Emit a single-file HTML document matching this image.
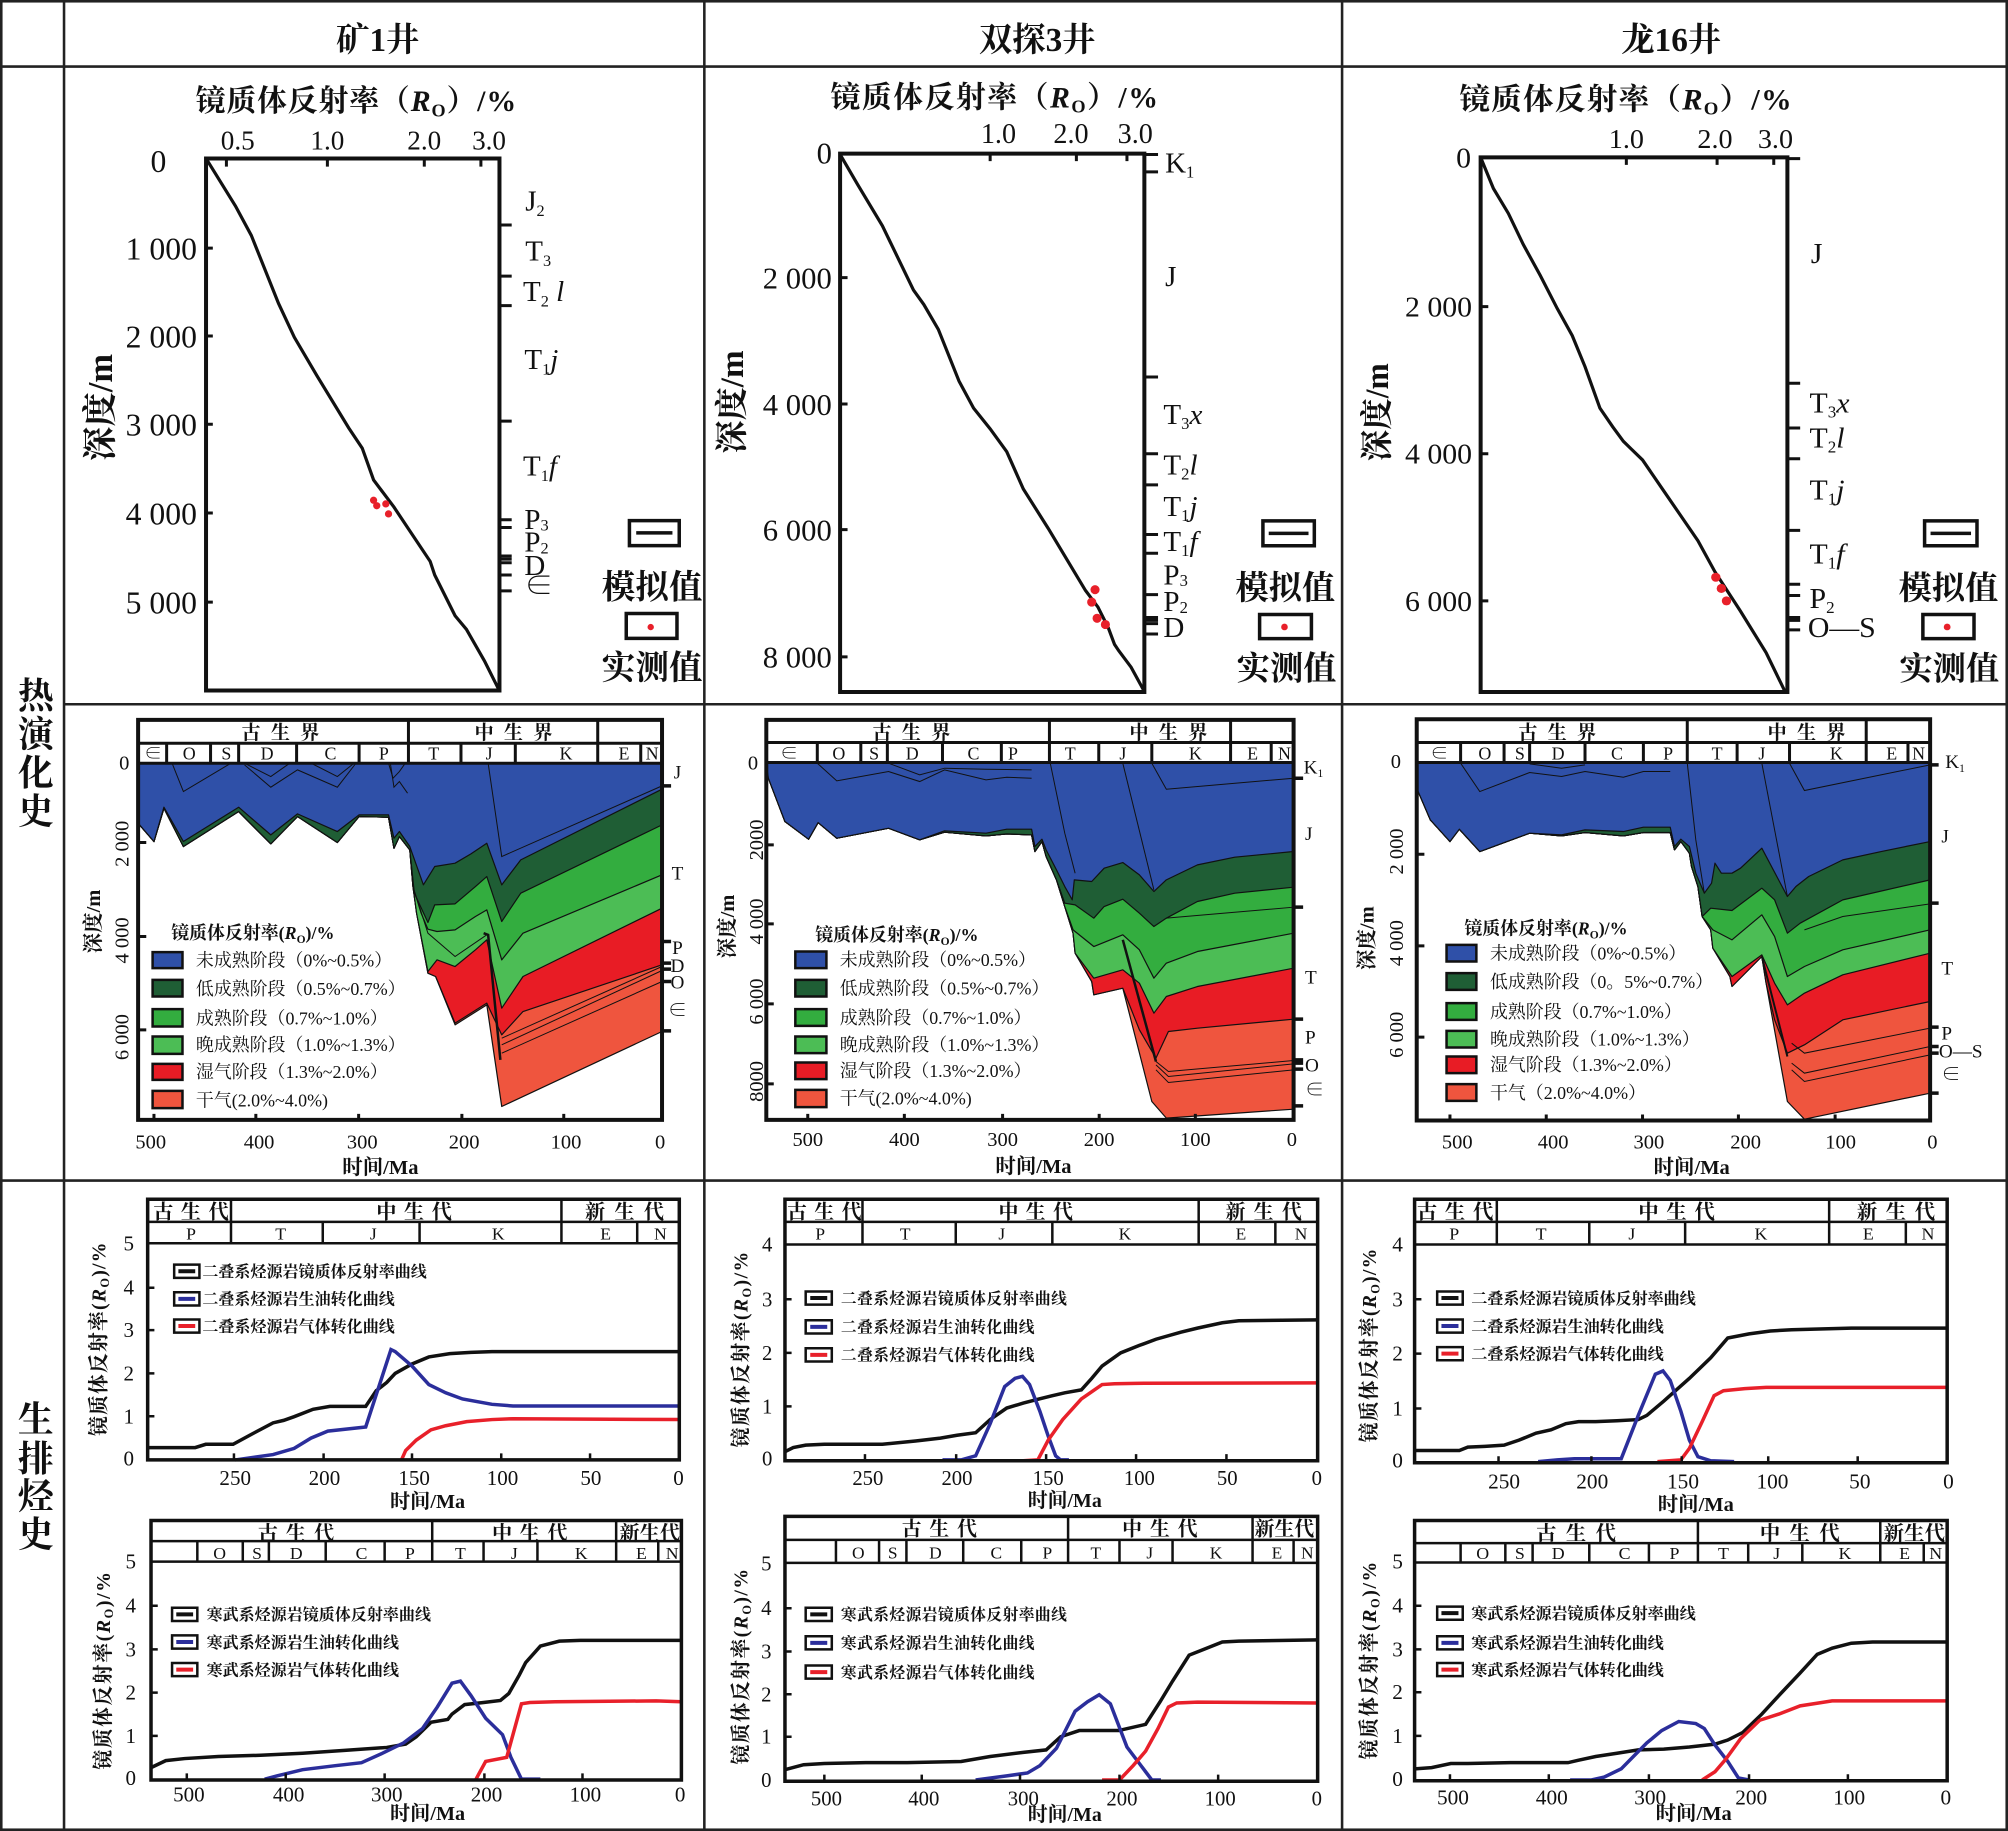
<!DOCTYPE html>
<html><head><meta charset="utf-8">
<style>
html,body{margin:0;padding:0;background:#fff}
svg{display:block}
text{font-family:"Liberation Serif","Noto Serif CJK SC","Noto Sans CJK SC",serif;fill:#111}
.b{font-weight:bold}
.m{text-anchor:middle}
.e{text-anchor:end}
.ns path,.ns line,.ns rect,.ns polyline,.ns circle{vector-effect:non-scaling-stroke}
</style></head><body>
<svg xmlns="http://www.w3.org/2000/svg" width="2008" height="1831" viewBox="0 0 1568 1430" preserveAspectRatio="none">
<rect x="0" y="0" width="1568" height="1430" fill="#fff"/>

<!-- grid -->
<g stroke="#222" stroke-width="2" fill="none">
<rect x="1" y="1" width="1566" height="1428"/>
<line x1="50" y1="0" x2="50" y2="1430"/>
<line x1="550" y1="0" x2="550" y2="1430"/>
<line x1="1048" y1="0" x2="1048" y2="1430"/>
<line x1="0" y1="52" x2="1568" y2="52"/>
<line x1="50" y1="550" x2="1568" y2="550"/>
<line x1="0" y1="922" x2="1568" y2="922"/>
</g>
<g class="b m" font-size="26">
<text x="295" y="40">矿1井</text>
<text x="810" y="40">双探3井</text>
<text x="1305" y="40">龙16井</text>
</g>
<g class="b m" font-size="28">
<text x="28" y="553">热</text><text x="28" y="583">演</text><text x="28" y="613">化</text><text x="28" y="643">史</text>
<text x="28" y="1118">生</text><text x="28" y="1149">排</text><text x="28" y="1178">烃</text><text x="28" y="1208">史</text>
</g>

<!-- ============ ROW 1 PANEL 1 ============ -->
<g transform="scale(0.3536)" class="ns">
<text class="b" x="432" y="245" font-size="66" textLength="708">镜质体反射率（<tspan font-style="italic">R</tspan><tspan font-size="40" dy="12">O</tspan><tspan dy="-12">）/%</tspan></text>
<g font-size="60" class="m"><text x="525" y="330">0.5</text><text x="723" y="330">1.0</text><text x="937" y="330">2.0</text><text x="1080" y="330">3.0</text></g>
<g font-size="70"><text x="350" y="380" class="m">0</text><text x="435" y="573" class="e">1 000</text><text x="435" y="767" class="e">2 000</text><text x="435" y="962" class="e">3 000</text><text x="435" y="1158" class="e">4 000</text><text x="435" y="1355" class="e">5 000</text></g>
<text class="b m" font-size="76" transform="translate(247,900) rotate(-90)">深度/m</text>
<path d="M455,350 L520,455 L555,520 L615,670 L650,745 L700,830 L770,945 L800,990 L825,1060 L870,1120 L900,1165 L950,1240 L960,1270 L1005,1360 L1030,1390 L1070,1460 L1100,1520" fill="none" stroke="#111" stroke-width="3.2"/>
<rect x="455" y="350" width="648" height="1175" fill="none" stroke="#111" stroke-width="4"/>
<path d="M500,350v18M723,350v18M937,350v18M1062,350v18M455,548h15M455,742h15M455,937h15M455,1133h15M455,1330h15" stroke="#111" stroke-width="3"/>
<path d="M1103,497h27M1103,610h27M1103,675h27M1103,930h27M1103,1148h27M1103,1165h27M1103,1228h27M1103,1235h27M1103,1243h27M1103,1270h27M1103,1305h27" stroke="#111" stroke-width="3"/>
<g fill="#e8202a"><circle cx="825" cy="1105" r="8"/><circle cx="832" cy="1117" r="8"/><circle cx="852" cy="1113" r="8"/><circle cx="858" cy="1135" r="8"/></g>
<g font-size="64">
<text x="1160" y="465">J<tspan font-size="36" dy="12">2</tspan></text>
<text x="1160" y="575">T<tspan font-size="36" dy="12">3</tspan></text>
<text x="1155" y="665">T<tspan font-size="36" dy="12">2</tspan><tspan dy="-12" font-style="italic"> l</tspan></text>
<text x="1158" y="815">T<tspan font-size="36" dy="12">1</tspan><tspan dy="-12" font-style="italic">j</tspan></text>
<text x="1155" y="1050">T<tspan font-size="36" dy="12">1</tspan><tspan dy="-12" font-style="italic">f</tspan></text>
<text x="1158" y="1168">P<tspan font-size="36" dy="4">3</tspan></text>
<text x="1158" y="1218">P<tspan font-size="36" dy="4">2</tspan></text>
<text x="1158" y="1270">D</text>
<text x="1158" y="1315">∈</text>
</g>
<rect x="1390" y="1150" width="110" height="55" fill="none" stroke="#111" stroke-width="3.5"/>
<line x1="1405" y1="1177" x2="1485" y2="1177" stroke="#111" stroke-width="3.5"/>
<rect x="1383" y="1355" width="112" height="55" fill="none" stroke="#111" stroke-width="3.5"/>
<circle cx="1437" cy="1385" r="7" fill="#e8202a"/>
<text class="b m" x="1440" y="1322" font-size="74">模拟值</text>
<text class="b m" x="1440" y="1500" font-size="74">实测值</text>
</g>

<!-- ============ ROW 1 PANEL 2 ============ -->
<g transform="translate(546.6,46.85) scale(0.3237)" class="ns">
<text class="b" x="315" y="115" font-size="72" textLength="790">镜质体反射率（<tspan font-style="italic">R</tspan><tspan font-size="44" dy="12">O</tspan><tspan dy="-12">）/%</tspan></text>
<g font-size="68" class="m"><text x="720" y="200">1.0</text><text x="895" y="200">2.0</text><text x="1050" y="200">3.0</text></g>
<g font-size="74"><text x="300" y="250" class="m">0</text><text x="318" y="551" class="e">2 000</text><text x="318" y="856" class="e">4 000</text><text x="318" y="1159" class="e">6 000</text><text x="318" y="1466" class="e">8 000</text></g>
<text class="b m" font-size="80" transform="translate(104,825) rotate(-90)">深度/m</text>
<path d="M338,228 L380,300 L440,400 L515,555 L540,590 L575,650 L625,775 L660,840 L700,890 L740,945 L780,1035 L840,1130 L885,1205 L930,1280 L960,1320 L985,1370 L1000,1410 L1010,1425 L1040,1465 L1070,1520" fill="none" stroke="#111" stroke-width="3.2"/>
<rect x="338" y="226" width="734" height="1299" fill="none" stroke="#111" stroke-width="4"/>
<path d="M700,226v18M908,226v18M1030,226v18M338,525h18M338,830h18M338,1133h18M338,1440h18" stroke="#111" stroke-width="3"/>
<path d="M1072,228h33M1072,270h33M1072,765h33M1072,950h33M1072,1025h33M1072,1145h33M1072,1190h33M1072,1290h33M1072,1345h33M1072,1352h33M1072,1360h33M1072,1385h33" stroke="#111" stroke-width="3"/>
<g fill="#e8202a"><circle cx="953" cy="1278" r="11"/><circle cx="945" cy="1308" r="11"/><circle cx="958" cy="1347" r="11"/><circle cx="978" cy="1362" r="11"/></g>
<g font-size="70">
<text x="1122" y="272">K<tspan font-size="40" dy="12">1</tspan></text>
<text x="1122" y="545">J</text>
<text x="1118" y="878">T<tspan font-size="40" dy="12">3</tspan><tspan dy="-12" font-style="italic">x</tspan></text>
<text x="1118" y="1000">T<tspan font-size="40" dy="12">2</tspan><tspan dy="-12" font-style="italic">l</tspan></text>
<text x="1118" y="1100">T<tspan font-size="40" dy="12">1</tspan><tspan dy="-12" font-style="italic">j</tspan></text>
<text x="1118" y="1185">T<tspan font-size="40" dy="12">1</tspan><tspan dy="-12" font-style="italic">f</tspan></text>
<text x="1118" y="1265">P<tspan font-size="40" dy="4">3</tspan></text>
<text x="1118" y="1330">P<tspan font-size="40" dy="4">2</tspan></text>
<text x="1118" y="1392">D</text>
</g>
<rect x="1358" y="1112" width="124" height="60" fill="none" stroke="#111" stroke-width="3.5"/>
<line x1="1372" y1="1142" x2="1468" y2="1142" stroke="#111" stroke-width="3.5"/>
<rect x="1350" y="1338" width="125" height="58" fill="none" stroke="#111" stroke-width="3.5"/>
<circle cx="1410" cy="1368" r="8" fill="#e8202a"/>
<text class="b m" x="1412" y="1300" font-size="80">模拟值</text>
<text class="b m" x="1415" y="1495" font-size="80">实测值</text>
</g>

<!-- ============ ROW 1 PANEL 3 ============ -->
<g transform="translate(1046.4,46.85) scale(0.3327,0.3237)" class="ns">
<text class="b" x="280" y="120" font-size="72" textLength="780">镜质体反射率（<tspan font-style="italic">R</tspan><tspan font-size="44" dy="12">O</tspan><tspan dy="-12">）/%</tspan></text>
<g font-size="66" class="m"><text x="672" y="212">1.0</text><text x="880" y="212">2.0</text><text x="1022" y="212">3.0</text></g>
<g font-size="70"><text x="290" y="259" class="m">0</text><text x="310" y="619" class="e">2 000</text><text x="310" y="974" class="e">4 000</text><text x="310" y="1329" class="e">6 000</text></g>
<text class="b m" font-size="76" transform="translate(112,850) rotate(-90)">深度/m</text>
<path d="M330,235 L360,310 L395,370 L430,445 L470,520 L510,600 L545,665 L575,740 L610,840 L640,885 L665,920 L685,940 L710,965 L760,1040 L800,1100 L840,1160 L880,1235 L940,1330 L1000,1430 L1045,1525" fill="none" stroke="#111" stroke-width="3.2"/>
<rect x="330" y="235" width="720" height="1290" fill="none" stroke="#111" stroke-width="4"/>
<path d="M672,235v18M885,235v18M1018,235v18M330,595h18M330,950h18M330,1305h18" stroke="#111" stroke-width="3"/>
<path d="M1050,238h30M1050,780h30M1050,888h30M1050,962h30M1050,1135h30M1050,1265h30M1050,1292h30M1050,1345h30M1050,1352h30M1050,1375h30" stroke="#111" stroke-width="3"/>
<g fill="#e8202a"><circle cx="882" cy="1248" r="11"/><circle cx="895" cy="1275" r="11"/><circle cx="907" cy="1305" r="11"/></g>
<g font-size="70">
<text x="1105" y="490">J</text>
<text x="1102" y="850">T<tspan font-size="40" dy="12">3</tspan><tspan dy="-12" font-style="italic">x</tspan></text>
<text x="1102" y="935">T<tspan font-size="40" dy="12">2</tspan><tspan dy="-12" font-style="italic">l</tspan></text>
<text x="1102" y="1060">T<tspan font-size="40" dy="12">1</tspan><tspan dy="-12" font-style="italic">j</tspan></text>
<text x="1102" y="1215">T<tspan font-size="40" dy="12">1</tspan><tspan dy="-12" font-style="italic">f</tspan></text>
<text x="1102" y="1322">P<tspan font-size="40" dy="12">2</tspan></text>
<text x="1098" y="1392">O—S</text>
</g>
<rect x="1372" y="1112" width="123" height="60" fill="none" stroke="#111" stroke-width="3.5"/>
<line x1="1386" y1="1142" x2="1481" y2="1142" stroke="#111" stroke-width="3.5"/>
<rect x="1368" y="1338" width="120" height="58" fill="none" stroke="#111" stroke-width="3.5"/>
<circle cx="1425" cy="1368" r="8" fill="#e8202a"/>
<text class="b m" x="1428" y="1300" font-size="78">模拟值</text>
<text class="b m" x="1430" y="1495" font-size="78">实测值</text>
</g>

<!-- ============ ROW 2 PANEL 1 ============ -->
<g transform="translate(0,546.6) scale(0.3536,0.2603)" class="ns">
<g stroke="#111" stroke-width="1.2" stroke-linejoin="round">
<path fill="#ef553e" d="M305,190 L1462,190 L1462,995 L1108,1220 L1075,915 L1005,975 L962,830 L945,820 L920,640 L912,560 L905,450 L882,410 L870,445 L858,352 L793,350 L745,428 L657,350 L598,432 L527,335 L405,440 L362,325 L340,425 L305,370 Z"/>
<path fill="#e81c25" d="M305,190 L1462,190 L1462,795 L1155,935 L1108,1005 L1075,910 L1005,970 L962,830 L945,820 L920,640 L912,560 L905,450 L882,410 L870,445 L858,352 L793,350 L745,428 L657,350 L598,432 L527,335 L405,440 L362,325 L340,425 L305,370 Z"/>
<path fill="#4cbd55" d="M305,190 L1462,190 L1462,625 L1155,830 L1108,925 L1075,720 L1050,750 L1005,800 L965,780 L945,815 L920,640 L912,560 L905,450 L882,410 L870,445 L858,352 L793,350 L745,428 L657,350 L598,432 L527,335 L405,440 L362,325 L340,425 L305,370 Z"/>
<path fill="#33ad3f" d="M305,190 L1462,190 L1462,525 L1155,700 L1108,780 L1075,630 L1050,650 L1005,690 L965,695 L945,688 L930,640 L912,560 L905,450 L882,410 L870,445 L858,352 L793,350 L745,428 L657,350 L598,432 L527,335 L405,440 L362,325 L340,425 L305,370 Z"/>
<path fill="#1f5e35" d="M305,190 L1462,190 L1462,375 L1150,580 L1108,665 L1075,530 L1050,560 L1005,612 L960,615 L945,668 L915,580 L905,450 L882,410 L870,445 L858,352 L793,350 L745,428 L657,350 L598,432 L527,335 L405,440 L362,325 L340,425 L305,370 Z"/>
<path fill="#2f50a8" d="M305,190 L1462,190 L1462,268 L1150,480 L1108,555 L1075,430 L1040,462 L1005,490 L960,500 L935,555 L905,440 L882,395 L870,415 L858,345 L793,345 L745,395 L657,342 L598,405 L527,322 L405,425 L362,322 L340,425 L305,370 Z"/>
</g>
<g fill="none" stroke="#111" stroke-width="1">
<path d="M380,190 L405,275 L510,190"/>
<path d="M540,190 L598,230 L640,190"/>
<path d="M540,195 L598,262 L657,210 L745,262 L785,192"/>
<path d="M690,192 L745,230 L780,192"/>
<path d="M858,190 L868,235 L882,215 L895,190"/>
<path d="M862,190 L870,262 L882,245 L900,280"/>
<path d="M1078,190 L1108,470 L1462,258"/>
<path d="M1108,1015 L1462,800"/>
<path d="M1108,1035 L1462,812"/>
<path d="M1108,1060 L1462,845"/>
<path d="M912,560 L945,700 L1005,770 L1075,705"/>
</g>
<path d="M1068,700 L1078,705 L1105,1080" fill="none" stroke="#111" stroke-width="2.5"/>
<rect x="305" y="60" width="1157" height="1200" fill="none" stroke="#111" stroke-width="4"/>
<path d="M305,130H1462M305,190H1462M902,60V130M1320,60V130M368,130V190M465,130V190M527,130V190M655,130V190M793,130V190M902,130V190M1018,130V190M1138,130V190M1320,130V190M1415,130V190" stroke="#111" stroke-width="3"/>
<path d="M305,428h18M305,710h18M305,990h18M340,1260v-18M565,1260v-18M792,1260v-18M1020,1260v-18M1245,1260v-18" stroke="#111" stroke-width="3"/>
<path d="M1462,258h20M1462,725h20M1462,790h20M1462,808h20M1462,845h20M1462,993h20" stroke="#111" stroke-width="3.5"/>
<g stroke="#111" stroke-width="2.5">
<rect x="337" y="757" width="66" height="48" fill="#2f50a8"/>
<rect x="337" y="840" width="66" height="50" fill="#1f5e35"/>
<rect x="337" y="928" width="66" height="52" fill="#33ad3f"/>
<rect x="337" y="1010" width="66" height="52" fill="#4cbd55"/>
<rect x="337" y="1092" width="66" height="48" fill="#e81c25"/>
<rect x="337" y="1173" width="66" height="52" fill="#ef553e"/>
</g>
</g>
<g font-size="15" class="b m" letter-spacing="8"><text x="223" y="577">古生界</text><text x="405" y="577">中生界</text></g>
<g font-size="14" class="m"><text x="119.5" y="593">∈</text><text x="147.8" y="593">O</text><text x="176.8" y="593">S</text><text x="208.6" y="593">D</text><text x="258.1" y="593">C</text><text x="299.8" y="593">P</text><text x="338.7" y="593">T</text><text x="381.9" y="593">J</text><text x="442" y="593">K</text><text x="487.3" y="593">E</text><text x="509.2" y="593">N</text></g>
<g font-size="16" class="m"><text x="97" y="601">0</text>
<text transform="translate(100.5,659) rotate(-90)">2 000</text>
<text transform="translate(100.5,734.5) rotate(-90)">4 000</text>
<text transform="translate(100.5,810) rotate(-90)">6 000</text>
<text x="117.7" y="897">500</text><text x="202.3" y="897">400</text><text x="282.9" y="897">300</text><text x="362.4" y="897">200</text><text x="442" y="897">100</text><text x="515.5" y="897">0</text></g>
<text class="b m" x="297" y="917" font-size="16">时间/Ma</text>
<text class="b m" font-size="16" transform="translate(78,719.7) rotate(-90)">深度/m</text>
<text class="b" x="133.7" y="733.5" font-size="14">镜质体反射率(<tspan font-style="italic">R</tspan><tspan font-size="9" dy="3">O</tspan><tspan dy="-3">)/%</tspan></text>
<g font-size="14"><text x="153" y="755">未成熟阶段（0%~0.5%）</text><text x="153" y="777">低成熟阶段（0.5%~0.7%）</text><text x="153" y="800">成熟阶段（0.7%~1.0%）</text><text x="153" y="821">晚成熟阶段（1.0%~1.3%）</text><text x="153" y="842">湿气阶段（1.3%~2.0%）</text><text x="153" y="864">干气(2.0%~4.0%)</text></g>
<g font-size="15" class="m"><text x="529" y="608">J</text><text x="529" y="687">T</text><text x="529" y="745">P</text><text x="529" y="759">D</text><text x="529" y="772">O</text><text x="529" y="794">∈</text></g>

<!-- ============ ROW 2 PANEL 2 ============ -->
<g transform="translate(546.6,546.6) scale(0.3237,0.2603)" class="ns">
<g stroke="#111" stroke-width="1.2" stroke-linejoin="round">
<path fill="#ef553e" d="M160,190 L1432,190 L1432,1228 L1125,1255 L1090,1205 L1020,865 L950,885 L945,845 L905,760 L900,700 L880,620 L860,540 L835,470 L825,425 L808,455 L800,405 L740,402 L690,408 L590,397 L530,420 L455,385 L330,415 L285,368 L262,418 L205,365 L165,235 L160,195 Z"/>
<path fill="#e81c25" d="M160,190 L1432,190 L1432,958 L1200,985 L1130,995 L1100,1075 L1060,990 L1020,865 L950,885 L945,845 L905,760 L900,700 L880,620 L860,540 L835,470 L825,425 L808,455 L800,405 L740,402 L690,408 L590,397 L530,420 L455,385 L330,415 L285,368 L262,418 L205,365 L165,235 L160,195 Z"/>
<path fill="#4cbd55" d="M160,190 L1432,190 L1432,805 L1200,860 L1125,890 L1095,940 L1060,850 L1020,810 L950,835 L905,760 L900,700 L880,620 L860,540 L835,470 L825,425 L808,455 L800,405 L740,402 L690,408 L590,397 L530,420 L455,385 L330,415 L285,368 L262,418 L205,365 L165,235 L160,195 Z"/>
<path fill="#33ad3f" d="M160,190 L1432,190 L1432,700 L1200,755 L1125,790 L1095,835 L1060,750 L1020,705 L950,740 L900,690 L880,620 L860,540 L835,470 L825,425 L808,455 L800,405 L740,402 L690,408 L590,397 L530,420 L455,385 L330,415 L285,368 L262,418 L205,365 L165,235 L160,195 Z"/>
<path fill="#1f5e35" d="M160,190 L1432,190 L1432,562 L1290,580 L1200,605 L1125,655 L1095,680 L1060,640 L1020,598 L975,620 L950,655 L905,615 L880,610 L860,540 L835,470 L825,425 L808,455 L800,405 L740,402 L690,408 L590,397 L530,420 L455,385 L330,415 L285,368 L262,418 L205,365 L165,235 L160,195 Z"/>
<path fill="#2f50a8" d="M160,190 L1432,190 L1432,455 L1290,472 L1200,495 L1125,540 L1095,575 L1060,525 L1020,488 L975,505 L945,545 L903,540 L898,600 L880,560 L860,510 L835,450 L825,418 L808,440 L800,388 L740,388 L690,400 L590,393 L530,420 L455,385 L330,415 L285,368 L262,418 L205,365 L165,235 L160,195 Z"/>
</g>
<g fill="none" stroke="#111" stroke-width="1">
<path d="M283,190 L330,243 L455,215 L530,245 L590,210 L690,240 L740,232 L800,235"/>
<path d="M455,190 L530,225 L590,205 L690,208 L800,210"/>
<path d="M1090,190 L1125,268 L1432,235"/>
<path d="M1020,190 L1095,570"/>
<path d="M845,190 L880,400 L905,520"/>
<path d="M1125,655 L1432,622"/>
<path d="M1100,1085 L1130,1115 L1432,1082"/>
<path d="M1100,1095 L1130,1130 L1432,1092"/>
<path d="M1100,1110 L1130,1148 L1432,1110"/>
</g>
<path d="M1020,720 L1100,1085" fill="none" stroke="#111" stroke-width="2.5"/>
<rect x="160" y="60" width="1272" height="1200" fill="none" stroke="#111" stroke-width="4"/>
<path d="M160,128H1432M160,188H1432M843,60V128M1280,60V128M283,128V188M388,128V188M452,128V188M585,128V188M727,128V188M843,128V188M962,128V188M1090,128V188M1280,128V188M1378,128V188" stroke="#111" stroke-width="3"/>
<path d="M160,435h18M160,672h18M160,912h18M160,1152h18M260,1260v-18M493,1260v-18M730,1260v-18M963,1260v-18M1195,1260v-18" stroke="#111" stroke-width="3"/>
<path d="M1432,235h23M1432,622h23M1432,958h23M1432,1080h23M1432,1090h23M1432,1108h23M1432,1218h23" stroke="#111" stroke-width="3.5"/>
<g stroke="#111" stroke-width="2.5">
<rect x="230" y="755" width="75" height="50" fill="#2f50a8"/>
<rect x="230" y="840" width="75" height="50" fill="#1f5e35"/>
<rect x="230" y="928" width="75" height="50" fill="#33ad3f"/>
<rect x="230" y="1010" width="75" height="50" fill="#4cbd55"/>
<rect x="230" y="1088" width="75" height="50" fill="#e81c25"/>
<rect x="230" y="1170" width="75" height="52" fill="#ef553e"/>
</g>
</g>
<g font-size="15" class="b m" letter-spacing="8"><text x="715.7" y="577">古生界</text><text x="916.4" y="577">中生界</text></g>
<g font-size="14" class="m"><text x="616.2" y="593">∈</text><text x="655" y="593">O</text><text x="682.6" y="593">S</text><text x="712.3" y="593">D</text><text x="760.2" y="593">C</text><text x="791" y="593">P</text><text x="835.7" y="593">T</text><text x="876.8" y="593">J</text><text x="933.4" y="593">K</text><text x="978.1" y="593">E</text><text x="1003" y="593">N</text></g>
<g font-size="16" class="m"><text x="588" y="601">0</text>
<text transform="translate(596,656) rotate(-90)">2000</text>
<text transform="translate(596,719.7) rotate(-90)">4 000</text>
<text transform="translate(596,782.2) rotate(-90)">6 000</text>
<text transform="translate(596,844.6) rotate(-90)">8000</text>
<text x="630.8" y="895">500</text><text x="706.2" y="895">400</text><text x="782.9" y="895">300</text><text x="858.3" y="895">200</text><text x="933.4" y="895">100</text><text x="1008.8" y="895">0</text></g>
<text class="b m" x="807" y="916" font-size="16">时间/Ma</text>
<text class="b m" font-size="16" transform="translate(573,723.6) rotate(-90)">深度/m</text>
<text class="b" x="636.6" y="735" font-size="14">镜质体反射率(<tspan font-style="italic">R</tspan><tspan font-size="9" dy="3">O</tspan><tspan dy="-3">)/%</tspan></text>
<g font-size="14"><text x="655.7" y="754.6">未成熟阶段（0%~0.5%）</text><text x="655.7" y="776.8">低成熟阶段（0.5%~0.7%）</text><text x="655.7" y="799.7">成熟阶段（0.7%~1.0%）</text><text x="655.7" y="821">晚成熟阶段（1.0%~1.3%）</text><text x="655.7" y="841.3">湿气阶段（1.3%~2.0%）</text><text x="655.7" y="862.7">干气(2.0%~4.0%)</text></g>
<g font-size="15"><text x="1018" y="604">K<tspan font-size="9" dy="3">1</tspan></text><text x="1019" y="656">J</text><text x="1019" y="768">T</text><text x="1019" y="815">P</text><text x="1019" y="837">O</text><text x="1019" y="856">∈</text></g>

<!-- ============ ROW 2 PANEL 3 ============ -->
<g transform="translate(1046.4,546.6) scale(0.3327,0.2603)" class="ns">
<g stroke="#111" stroke-width="1.2" stroke-linejoin="round">
<path fill="#ef553e" d="M180,188 L1385,188 L1385,1180 L1090,1258 L1050,1205 L1000,850 L990,770 L920,860 L915,830 L875,745 L870,690 L850,650 L840,560 L825,500 L820,460 L800,425 L785,450 L775,398 L712,398 L665,408 L575,398 L520,408 L445,400 L328,455 L280,388 L258,425 L212,360 L180,265 Z"/>
<path fill="#e81c25" d="M180,188 L1385,188 L1385,905 L1180,960 L1090,1035 L1050,1060 L1020,960 L1000,850 L990,770 L920,860 L915,830 L875,745 L870,690 L850,650 L840,560 L825,500 L820,460 L800,425 L785,450 L775,398 L712,398 L665,408 L575,398 L520,408 L445,400 L328,455 L280,388 L258,425 L212,360 L180,265 Z"/>
<path fill="#4cbd55" d="M180,188 L1385,188 L1385,760 L1180,825 L1090,880 L1050,915 L1020,850 L990,765 L920,830 L875,745 L870,690 L850,650 L840,560 L825,500 L820,460 L800,425 L785,450 L775,398 L712,398 L665,408 L575,398 L520,408 L445,400 L328,455 L280,388 L258,425 L212,360 L180,265 Z"/>
<path fill="#33ad3f" d="M180,188 L1385,188 L1385,690 L1180,750 L1090,800 L1050,830 L1020,710 L990,645 L920,720 L875,690 L850,650 L840,560 L825,500 L820,460 L800,425 L785,450 L775,398 L712,398 L665,408 L575,398 L520,408 L445,400 L328,455 L280,388 L258,425 L212,360 L180,265 Z"/>
<path fill="#1f5e35" d="M180,188 L1385,188 L1385,540 L1180,600 L1080,670 L1050,700 L1020,600 L990,565 L920,632 L870,625 L850,650 L840,560 L825,500 L820,460 L800,425 L785,450 L775,398 L712,398 L665,408 L575,398 L520,408 L445,400 L328,455 L280,388 L258,425 L212,360 L180,265 Z"/>
<path fill="#2f50a8" d="M180,188 L1385,188 L1385,425 L1270,455 L1180,480 L1100,530 L1070,560 L1050,590 L990,445 L940,505 L920,520 L895,520 L880,490 L872,550 L855,580 L835,520 L820,440 L800,418 L785,440 L775,382 L712,382 L665,395 L575,390 L520,405 L445,400 L328,455 L280,388 L258,425 L212,360 L180,265 Z"/>
</g>
<g fill="none" stroke="#111" stroke-width="1">
<path d="M283,190 L328,275 L445,218 L520,230 L575,215 L665,232 L712,215 L775,215"/>
<path d="M445,192 L520,205 L575,195"/>
<path d="M1055,190 L1090,272 L1385,195"/>
<path d="M990,190 L1050,590"/>
<path d="M815,190 L835,420 L855,580"/>
<path d="M1090,690 L1180,650 L1385,612"/>
<path d="M1060,1030 L1090,1060 L1385,985"/>
<path d="M1060,1090 L1090,1120 L1385,1040"/>
<path d="M1060,1110 L1090,1145 L1385,1065"/>
</g>
<path d="M990,770 L1050,1070" fill="none" stroke="#111" stroke-width="2"/>
<rect x="180" y="58" width="1205" height="1204" fill="none" stroke="#111" stroke-width="4"/>
<path d="M180,128H1385M180,188H1385M815,58V128M1235,58V128M283,128V188M385,128V188M445,128V188M575,128V188M712,128V188M815,128V188M932,128V188M1055,128V188M1235,128V188M1333,128V188" stroke="#111" stroke-width="3"/>
<path d="M180,463h18M180,738h18M180,1012h18M258,1262v-18M484,1262v-18M710,1262v-18M935,1262v-18M1162,1262v-18" stroke="#111" stroke-width="3"/>
<path d="M1385,195h20M1385,610h20M1385,982h20M1385,1040h20M1385,1060h20M1385,1180h20" stroke="#111" stroke-width="3.5"/>
<g stroke="#111" stroke-width="2.5">
<rect x="250" y="735" width="70" height="50" fill="#2f50a8"/>
<rect x="250" y="820" width="70" height="50" fill="#1f5e35"/>
<rect x="250" y="910" width="70" height="50" fill="#33ad3f"/>
<rect x="250" y="993" width="70" height="50" fill="#4cbd55"/>
<rect x="250" y="1070" width="70" height="50" fill="#e81c25"/>
<rect x="250" y="1153" width="70" height="50" fill="#ef553e"/>
</g>
</g>
<g font-size="15" class="b m" letter-spacing="8"><text x="1220" y="577">古生界</text><text x="1414.7" y="577">中生界</text></g>
<g font-size="14" class="m"><text x="1123.9" y="593">∈</text><text x="1159.5" y="593">O</text><text x="1186.8" y="593">S</text><text x="1216.7" y="593">D</text><text x="1262.7" y="593">C</text><text x="1302.6" y="593">P</text><text x="1340.8" y="593">T</text><text x="1375.8" y="593">J</text><text x="1434" y="593">K</text><text x="1477.2" y="593">E</text><text x="1498.2" y="593">N</text></g>
<g font-size="16" class="m"><text x="1090" y="600">0</text>
<text transform="translate(1095.5,665) rotate(-90)">2 000</text>
<text transform="translate(1095.5,736.6) rotate(-90)">4 000</text>
<text transform="translate(1095.5,808.2) rotate(-90)">6 000</text>
<text x="1137.9" y="897">500</text><text x="1212.8" y="897">400</text><text x="1287.6" y="897">300</text><text x="1363.1" y="897">200</text><text x="1437.3" y="897">100</text><text x="1508.9" y="897">0</text></g>
<text class="b m" x="1321" y="917" font-size="16">时间/Ma</text>
<text class="b m" font-size="16" transform="translate(1072.5,732.7) rotate(-90)">深度/m</text>
<text class="b" x="1143.5" y="730" font-size="14">镜质体反射率(<tspan font-style="italic">R</tspan><tspan font-size="9" dy="3">O</tspan><tspan dy="-3">)/%</tspan></text>
<g font-size="14"><text x="1163.5" y="749.4">未成熟阶段（0%~0.5%）</text><text x="1163.5" y="771.6">低成熟阶段（0。5%~0.7%）</text><text x="1163.5" y="795">成熟阶段（0.7%~1.0%）</text><text x="1163.5" y="816.6">晚成熟阶段（1.0%~1.3%）</text><text x="1163.5" y="836.6">湿气阶段（1.3%~2.0%）</text><text x="1163.5" y="858.2">干气（2.0%~4.0%）</text></g>
<g font-size="15"><text x="1519" y="600">K<tspan font-size="9" dy="3">1</tspan></text><text x="1516" y="658">J</text><text x="1516" y="761">T</text><text x="1516" y="812">P</text><text x="1514" y="826">O—S</text><text x="1516" y="844">∈</text></g>

<!-- ============ ROW 3 PANEL 1 ============ -->
<g transform="translate(39.04,925.3) scale(0.3287,0.3217)" class="ns">
<polyline fill="none" stroke="#111" stroke-width="3.5" points="232,638 345,638 370,630 435,630 480,605 530,578 555,572 580,563 625,545 665,538 750,538 775,500 800,480 820,458 860,435 900,418 950,410 1000,407 1050,405 1495,405"/>
<polyline fill="none" stroke="#2b2e9b" stroke-width="3.5" points="440,668 530,655 580,640 620,615 660,598 750,588 810,400 820,405 860,440 900,485 940,505 980,520 1050,533 1100,537 1495,537"/>
<polyline fill="none" stroke="#e8202a" stroke-width="3.5" points="835,668 845,645 870,620 905,595 940,585 990,575 1050,570 1100,568 1495,570"/>
<rect x="232" y="35" width="1263" height="633" fill="none" stroke="#111" stroke-width="3.5"/>
<path d="M232,90H1495M232,142H1495M430,35V142M1215,35V142M648,90V142M878,90V142M1395,90V142" stroke="#111" stroke-width="2.5"/>
<path d="M232,250h16M232,353h16M232,458h16M232,562h16M437,668v-16M650,668v-16M860,668v-16M1072,668v-16M1283,668v-16" stroke="#111" stroke-width="2.5"/>
<g font-size="48" class="b m"><text x="344" y="82" letter-spacing="18">古生代</text><text x="874" y="82" letter-spacing="18">中生代</text><text x="1376" y="82" letter-spacing="22">新生代</text></g>
<g font-size="42" class="m"><text x="335" y="133">P</text><text x="548" y="133">T</text><text x="768" y="133">J</text><text x="1065" y="133">K</text><text x="1320" y="133">E</text><text x="1450" y="133">N</text></g>
<g font-size="50" class="m"><text x="187" y="159">5</text><text x="187" y="267">4</text><text x="187" y="370">3</text><text x="187" y="475">2</text><text x="187" y="579">1</text><text x="187" y="682">0</text>
<text x="440" y="729">250</text><text x="652" y="729">200</text><text x="865" y="729">150</text><text x="1075" y="729">100</text><text x="1285" y="729">50</text><text x="1493" y="729">0</text></g>
<text class="b m" x="897" y="785" font-size="48">时间/Ma</text>
<text class="b m" font-size="48" transform="translate(132,375) rotate(-90)" textLength="470">镜质体反射率(<tspan font-style="italic">R</tspan><tspan font-size="30" dy="8">O</tspan><tspan dy="-8">)/%</tspan></text>
<g stroke="#111" stroke-width="2.5" fill="none"><rect x="295" y="194" width="60" height="32"/><rect x="295" y="261" width="60" height="32"/><rect x="295" y="327" width="60" height="32"/></g>
<path d="M305,210h40" stroke="#111" stroke-width="4"/><path d="M305,277h40" stroke="#2b2e9b" stroke-width="4"/><path d="M305,343h40" stroke="#e8202a" stroke-width="4"/>
<g font-size="38" class="b"><text x="362" y="224" textLength="533">二叠系烃源岩镜质体反射率曲线</text><text x="362" y="291" textLength="457">二叠系烃源岩生油转化曲线</text><text x="362" y="357" textLength="457">二叠系烃源岩气体转化曲线</text></g>
<!-- bottom chart -->
<polyline fill="none" stroke="#111" stroke-width="3.5" points="240,1415 275,1398 320,1393 400,1388 500,1385 600,1380 700,1373 800,1366 845,1358 870,1340 905,1305 945,1298 955,1285 985,1262 1030,1257 1070,1252 1090,1235 1115,1190 1130,1160 1165,1120 1210,1108 1260,1106 1500,1106"/>
<polyline fill="none" stroke="#2b2e9b" stroke-width="3.5" points="510,1443 540,1435 600,1420 680,1410 740,1403 790,1380 840,1355 885,1320 920,1268 955,1210 975,1205 1000,1240 1035,1295 1075,1335 1095,1390 1120,1443 1165,1443"/>
<polyline fill="none" stroke="#e8202a" stroke-width="3.5" points="1012,1443 1035,1400 1085,1390 1120,1260 1140,1257 1200,1255 1440,1253 1500,1255"/>
<rect x="240" y="815" width="1260" height="630" fill="none" stroke="#111" stroke-width="3.5"/>
<path d="M240,865H1500M240,915H1500M908,815V865M1345,815V865M350,865V915M458,865V915M520,865V915M655,865V915M795,865V915M908,865V915M1030,865V915M1158,865V915M1345,865V915M1445,865V915" stroke="#111" stroke-width="2.5"/>
<path d="M240,1022h16M240,1128h16M240,1233h16M240,1338h16M325,1445v-16M560,1445v-16M795,1445v-16M1032,1445v-16M1265,1445v-16" stroke="#111" stroke-width="2.5"/>
<g font-size="48" class="b m"><text x="594" y="862" letter-spacing="19">古生代</text><text x="1149" y="862" letter-spacing="18">中生代</text><text x="1425" y="862">新生代</text></g>
<g font-size="42" class="m"><text x="403" y="908">O</text><text x="492" y="908">S</text><text x="585" y="908">D</text><text x="740" y="908">C</text><text x="855" y="908">P</text><text x="975" y="908">T</text><text x="1103" y="908">J</text><text x="1262" y="908">K</text><text x="1405" y="908">E</text><text x="1478" y="908">N</text></g>
<g font-size="50" class="m"><text x="192" y="932">5</text><text x="192" y="1039">4</text><text x="192" y="1145">3</text><text x="192" y="1250">2</text><text x="192" y="1355">1</text><text x="192" y="1457">0</text>
<text x="330" y="1497">500</text><text x="567" y="1497">400</text><text x="800" y="1497">300</text><text x="1037" y="1497">200</text><text x="1272" y="1497">100</text><text x="1497" y="1497">0</text></g>
<text class="b m" x="897" y="1542" font-size="48">时间/Ma</text>
<text class="b m" font-size="48" transform="translate(142,1180) rotate(-90)" textLength="480">镜质体反射率(<tspan font-style="italic">R</tspan><tspan font-size="30" dy="8">O</tspan><tspan dy="-8">)/%</tspan></text>
<g stroke="#111" stroke-width="2.5" fill="none"><rect x="290" y="1027" width="60" height="32"/><rect x="290" y="1094" width="60" height="32"/><rect x="290" y="1161" width="60" height="32"/></g>
<path d="M300,1043h40" stroke="#111" stroke-width="4"/><path d="M300,1110h40" stroke="#2b2e9b" stroke-width="4"/><path d="M300,1177h40" stroke="#e8202a" stroke-width="4"/>
<g font-size="38" class="b"><text x="372" y="1057" textLength="533">寒武系烃源岩镜质体反射率曲线</text><text x="372" y="1124" textLength="457">寒武系烃源岩生油转化曲线</text><text x="372" y="1191" textLength="457">寒武系烃源岩气体转化曲线</text></g>
</g>

<!-- ============ ROW 3 PANEL 2 ============ -->
<g transform="translate(546.6,925.3) scale(0.3237,0.3217)" class="ns">
<polyline fill="none" stroke="#111" stroke-width="3.5" points="205,648 225,638 255,632 300,630 440,630 520,622 580,615 620,608 665,602 700,570 740,542 780,530 810,522 850,512 880,505 920,498 945,470 970,440 1015,408 1060,390 1100,375 1160,358 1200,348 1260,335 1300,330 1490,328"/>
<polyline fill="none" stroke="#2b2e9b" stroke-width="3.5" points="585,668 630,668 665,658 700,580 735,490 760,470 778,465 795,485 820,550 840,610 858,658 870,668 890,668"/>
<polyline fill="none" stroke="#e8202a" stroke-width="3.5" points="780,670 815,668 840,620 875,570 920,520 970,485 1000,483 1050,482 1490,481"/>
<rect x="205" y="35" width="1285" height="635" fill="none" stroke="#111" stroke-width="3.5"/>
<path d="M205,90H1490M205,145H1490M392,35V145M1203,35V145M617,90V145M850,90V145M1388,90V145" stroke="#111" stroke-width="2.5"/>
<path d="M205,278h16M205,408h16M205,538h16M398,670v-16M618,670v-16M835,670v-16M1052,670v-16M1270,670v-16" stroke="#111" stroke-width="2.5"/>
<g font-size="48" class="b m"><text x="309" y="82" letter-spacing="18">古生代</text><text x="819" y="82" letter-spacing="18">中生代</text><text x="1370" y="82" letter-spacing="20">新生代</text></g>
<g font-size="42" class="m"><text x="290" y="133">P</text><text x="495" y="133">T</text><text x="728" y="133">J</text><text x="1025" y="133">K</text><text x="1305" y="133">E</text><text x="1450" y="133">N</text></g>
<g font-size="50" class="m"><text x="162" y="162">4</text><text x="162" y="295">3</text><text x="162" y="425">2</text><text x="162" y="555">1</text><text x="162" y="682">0</text>
<text x="405" y="729">250</text><text x="620" y="729">200</text><text x="840" y="729">150</text><text x="1060" y="729">100</text><text x="1272" y="729">50</text><text x="1488" y="729">0</text></g>
<text class="b m" x="880" y="782" font-size="48">时间/Ma</text>
<text class="b m" font-size="48" transform="translate(115,400) rotate(-90)" textLength="475">镜质体反射率(<tspan font-style="italic">R</tspan><tspan font-size="30" dy="8">O</tspan><tspan dy="-8">)/%</tspan></text>
<g stroke="#111" stroke-width="2.5" fill="none"><rect x="255" y="259" width="63" height="32"/><rect x="255" y="329" width="63" height="32"/><rect x="255" y="397" width="63" height="32"/></g>
<path d="M266,275h41" stroke="#111" stroke-width="4"/><path d="M266,345h41" stroke="#2b2e9b" stroke-width="4"/><path d="M266,413h41" stroke="#e8202a" stroke-width="4"/>
<g font-size="38" class="b"><text x="340" y="289" textLength="545">二叠系烃源岩镜质体反射率曲线</text><text x="340" y="359" textLength="467">二叠系烃源岩生油转化曲线</text><text x="340" y="427" textLength="467">二叠系烃源岩气体转化曲线</text></g>
<!-- bottom -->
<polyline fill="none" stroke="#111" stroke-width="3.5" points="205,1420 250,1408 300,1405 400,1403 500,1403 630,1400 700,1388 780,1378 835,1372 870,1340 915,1325 1010,1325 1075,1310 1110,1255 1140,1205 1180,1142 1210,1130 1260,1110 1300,1108 1490,1105"/>
<polyline fill="none" stroke="#2b2e9b" stroke-width="3.5" points="665,1445 740,1435 790,1428 820,1410 860,1368 905,1278 935,1255 963,1238 990,1260 1030,1365 1060,1405 1090,1445 1112,1445"/>
<polyline fill="none" stroke="#e8202a" stroke-width="3.5" points="970,1445 1012,1445 1045,1410 1075,1375 1105,1320 1130,1268 1150,1258 1200,1256 1490,1258"/>
<rect x="205" y="805" width="1285" height="643" fill="none" stroke="#111" stroke-width="3.5"/>
<path d="M205,862H1490M205,918H1490M888,805V862M1333,805V862M328,862V918M432,862V918M498,862V918M635,862V918M775,862V918M888,862V918M1012,862V918M1140,862V918M1333,862V918M1432,862V918" stroke="#111" stroke-width="2.5"/>
<path d="M205,1028h16M205,1133h16M205,1237h16M205,1340h16M300,1448v-16M535,1448v-16M772,1448v-16M1012,1448v-16M1250,1448v-16" stroke="#111" stroke-width="2.5"/>
<g font-size="48" class="b m"><text x="587" y="852" letter-spacing="19">古生代</text><text x="1119" y="852" letter-spacing="19">中生代</text><text x="1410" y="852">新生代</text></g>
<g font-size="42" class="m"><text x="382" y="907">O</text><text x="465" y="907">S</text><text x="568" y="907">D</text><text x="715" y="907">C</text><text x="838" y="907">P</text><text x="955" y="907">T</text><text x="1085" y="907">J</text><text x="1245" y="907">K</text><text x="1392" y="907">E</text><text x="1465" y="907">N</text></g>
<g font-size="50" class="m"><text x="160" y="937">5</text><text x="160" y="1045">4</text><text x="160" y="1150">3</text><text x="160" y="1254">2</text><text x="160" y="1357">1</text><text x="160" y="1462">0</text>
<text x="305" y="1507">500</text><text x="540" y="1507">400</text><text x="780" y="1507">300</text><text x="1018" y="1507">200</text><text x="1255" y="1507">100</text><text x="1488" y="1507">0</text></g>
<text class="b m" x="880" y="1545" font-size="48">时间/Ma</text>
<text class="b m" font-size="48" transform="translate(115,1170) rotate(-90)" textLength="475">镜质体反射率(<tspan font-style="italic">R</tspan><tspan font-size="30" dy="8">O</tspan><tspan dy="-8">)/%</tspan></text>
<g stroke="#111" stroke-width="2.5" fill="none"><rect x="255" y="1027" width="63" height="32"/><rect x="255" y="1096" width="63" height="32"/><rect x="255" y="1167" width="63" height="32"/></g>
<path d="M266,1043h41" stroke="#111" stroke-width="4"/><path d="M266,1112h41" stroke="#2b2e9b" stroke-width="4"/><path d="M266,1183h41" stroke="#e8202a" stroke-width="4"/>
<g font-size="38" class="b"><text x="340" y="1057" textLength="545">寒武系烃源岩镜质体反射率曲线</text><text x="340" y="1126" textLength="467">寒武系烃源岩生油转化曲线</text><text x="340" y="1197" textLength="467">寒武系烃源岩气体转化曲线</text></g>
</g>

<!-- ============ ROW 3 PANEL 3 ============ -->
<g transform="translate(1046.4,925.3) scale(0.3327,0.3217)" class="ns">
<polyline fill="none" stroke="#111" stroke-width="3.5" points="175,645 280,645 300,637 340,635 385,632 420,620 460,603 495,595 530,580 560,575 600,575 650,573 700,570 720,560 760,525 820,470 870,420 910,372 960,362 1010,355 1060,352 1200,348 1425,348"/>
<polyline fill="none" stroke="#2b2e9b" stroke-width="3.5" points="465,672 510,668 550,665 600,665 660,665 700,560 740,460 758,452 775,475 800,550 820,620 840,660 870,670 925,672"/>
<polyline fill="none" stroke="#e8202a" stroke-width="3.5" points="745,672 800,668 820,640 850,575 878,512 900,500 950,495 1000,492 1425,492"/>
<rect x="175" y="35" width="1250" height="640" fill="none" stroke="#111" stroke-width="3.5"/>
<path d="M175,90H1425M175,145H1425M368,35V145M1148,35V145M585,90V145M810,90V145M1328,90V145" stroke="#111" stroke-width="2.5"/>
<path d="M175,278h16M175,410h16M175,543h16M372,675v-16M590,675v-16M802,675v-16M1005,675v-16M1215,675v-16" stroke="#111" stroke-width="2.5"/>
<g font-size="48" class="b m"><text x="279" y="82" letter-spacing="18">古生代</text><text x="799" y="82" letter-spacing="18">中生代</text><text x="1315" y="82" letter-spacing="20">新生代</text></g>
<g font-size="42" class="m"><text x="268" y="133">P</text><text x="472" y="133">T</text><text x="685" y="133">J</text><text x="988" y="133">K</text><text x="1240" y="133">E</text><text x="1380" y="133">N</text></g>
<g font-size="50" class="m"><text x="135" y="162">4</text><text x="135" y="295">3</text><text x="135" y="427">2</text><text x="135" y="560">1</text><text x="135" y="687">0</text>
<text x="385" y="737">250</text><text x="592" y="737">200</text><text x="805" y="737">150</text><text x="1015" y="737">100</text><text x="1220" y="737">50</text><text x="1428" y="737">0</text></g>
<text class="b m" x="835" y="792" font-size="48">时间/Ma</text>
<text class="b m" font-size="48" transform="translate(85,390) rotate(-90)" textLength="470">镜质体反射率(<tspan font-style="italic">R</tspan><tspan font-size="30" dy="8">O</tspan><tspan dy="-8">)/%</tspan></text>
<g stroke="#111" stroke-width="2.5" fill="none"><rect x="228" y="259" width="60" height="32"/><rect x="228" y="327" width="60" height="32"/><rect x="228" y="394" width="60" height="32"/></g>
<path d="M238,275h40" stroke="#111" stroke-width="4"/><path d="M238,343h40" stroke="#2b2e9b" stroke-width="4"/><path d="M238,410h40" stroke="#e8202a" stroke-width="4"/>
<g font-size="38" class="b"><text x="308" y="289" textLength="527">二叠系烃源岩镜质体反射率曲线</text><text x="308" y="357" textLength="452">二叠系烃源岩生油转化曲线</text><text x="308" y="424" textLength="452">二叠系烃源岩气体转化曲线</text></g>
<!-- bottom -->
<polyline fill="none" stroke="#111" stroke-width="3.5" points="175,1418 215,1415 260,1405 300,1405 400,1403 535,1403 560,1397 600,1388 650,1380 700,1372 760,1370 820,1365 880,1358 910,1348 945,1330 990,1285 1030,1240 1080,1185 1120,1140 1155,1125 1200,1113 1250,1110 1425,1110"/>
<polyline fill="none" stroke="#2b2e9b" stroke-width="3.5" points="540,1445 590,1445 620,1438 660,1418 720,1355 755,1325 795,1303 835,1308 855,1320 880,1360 910,1400 935,1440 960,1445"/>
<polyline fill="none" stroke="#e8202a" stroke-width="3.5" points="850,1445 880,1425 905,1395 940,1345 985,1300 1030,1285 1080,1265 1155,1253 1425,1253"/>
<rect x="175" y="815" width="1250" height="632" fill="none" stroke="#111" stroke-width="3.5"/>
<path d="M175,870H1425M175,917H1425M840,815V870M1268,815V870M283,870V917M388,870V917M452,870V917M585,870V917M725,870V917M840,870V917M958,870V917M1085,870V917M1268,870V917M1370,870V917" stroke="#111" stroke-width="2.5"/>
<path d="M175,1022h16M175,1128h16M175,1232h16M175,1338h16M258,1447v-16M490,1447v-16M725,1447v-16M960,1447v-16M1192,1447v-16" stroke="#111" stroke-width="2.5"/>
<g font-size="48" class="b m"><text x="565" y="862" letter-spacing="22">古生代</text><text x="1090" y="862" letter-spacing="22">中生代</text><text x="1348" y="862">新生代</text></g>
<g font-size="42" class="m"><text x="335" y="908">O</text><text x="422" y="908">S</text><text x="512" y="908">D</text><text x="668" y="908">C</text><text x="785" y="908">P</text><text x="900" y="908">T</text><text x="1025" y="908">J</text><text x="1185" y="908">K</text><text x="1325" y="908">E</text><text x="1398" y="908">N</text></g>
<g font-size="50" class="m"><text x="135" y="932">5</text><text x="135" y="1039">4</text><text x="135" y="1145">3</text><text x="135" y="1249">2</text><text x="135" y="1355">1</text><text x="135" y="1460">0</text>
<text x="265" y="1504">500</text><text x="497" y="1504">400</text><text x="728" y="1504">300</text><text x="965" y="1504">200</text><text x="1195" y="1504">100</text><text x="1422" y="1504">0</text></g>
<text class="b m" x="830" y="1542" font-size="48">时间/Ma</text>
<text class="b m" font-size="48" transform="translate(85,1155) rotate(-90)" textLength="480">镜质体反射率(<tspan font-style="italic">R</tspan><tspan font-size="30" dy="8">O</tspan><tspan dy="-8">)/%</tspan></text>
<g stroke="#111" stroke-width="2.5" fill="none"><rect x="228" y="1024" width="60" height="32"/><rect x="228" y="1096" width="60" height="32"/><rect x="228" y="1161" width="60" height="32"/></g>
<path d="M238,1040h40" stroke="#111" stroke-width="4"/><path d="M238,1112h40" stroke="#2b2e9b" stroke-width="4"/><path d="M238,1177h40" stroke="#e8202a" stroke-width="4"/>
<g font-size="38" class="b"><text x="308" y="1054" textLength="527">寒武系烃源岩镜质体反射率曲线</text><text x="308" y="1126" textLength="452">寒武系烃源岩生油转化曲线</text><text x="308" y="1191" textLength="452">寒武系烃源岩气体转化曲线</text></g>
</g>
</svg>
</body></html>
